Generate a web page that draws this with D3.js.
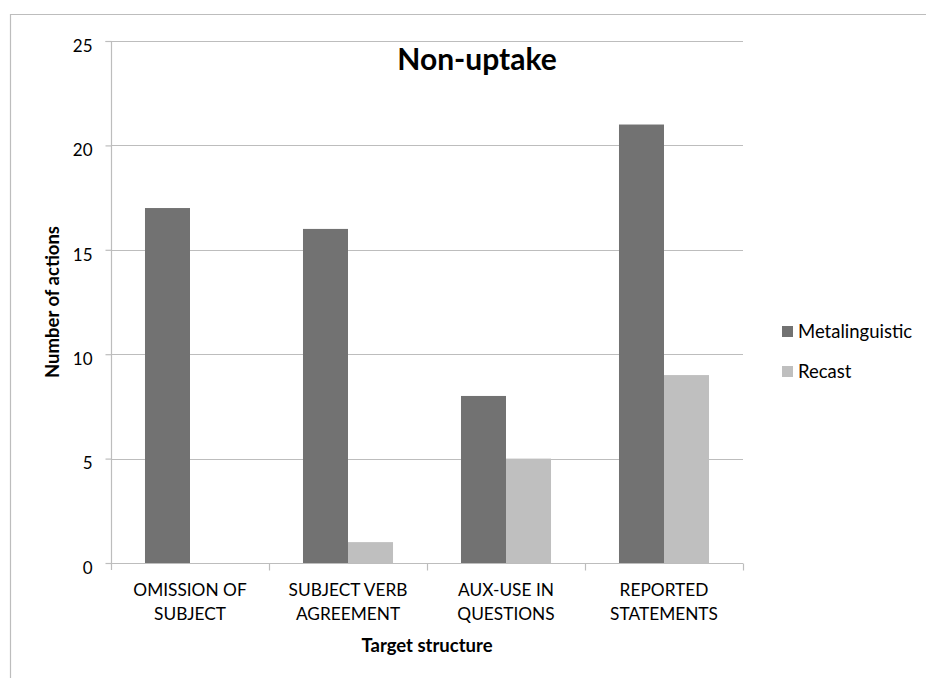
<!DOCTYPE html>
<html>
<head>
<meta charset="utf-8">
<script src="https://cdn.jsdelivr.net/npm/d3@7"></script>
<style>
  html, body { margin: 0; padding: 0; background: #fff; }
  svg { display: block; }
  text { font-family: Lato, "Open Sans", sans-serif; fill: #000; }
</style>
</head>
<body>
<svg id="chart" width="926" height="678"></svg>
<script>
const categories = [["OMISSION OF", "SUBJECT"], ["SUBJECT VERB", "AGREEMENT"], ["AUX-USE IN", "QUESTIONS"], ["REPORTED", "STATEMENTS"]];
const seriesNames = ["Metalinguistic", "Recast"];
const metalinguistic = [17, 16, 8, 21];
const recast = [0, 1, 5, 9];
const yTicks = [0, 5, 10, 15, 20, 25];
const colors = ["#727272", "#bfbfbf"];

const svg = d3.select("#chart");
const W = 926, H = 678;
const plot = { left: 111, right: 743, top: 41, bottom: 563 };

// outer frame
svg.append("path")
  .attr("d", `M10.5,${H} L10.5,14.5 L${W},14.5`)
  .attr("fill", "none").attr("stroke", "#bdbdbd").attr("stroke-width", 1.2);

const catKeys = categories.map((c, i) => i);
const x0 = d3.scaleBand().domain(catKeys).range([plot.left, plot.right]).paddingInner(0).paddingOuter(0);
const x1 = d3.scaleBand().domain(seriesNames).range([0, x0.bandwidth()]).paddingInner(0).paddingOuter(0.755);
const y = d3.scaleLinear().domain([0, 25]).range([plot.bottom, plot.top]);

// gridlines
svg.append("g").selectAll("line").data(yTicks.filter(t => t > 0)).join("line")
  .attr("x1", plot.left).attr("x2", plot.right)
  .attr("y1", d => Math.round(y(d)) + 0.5).attr("y2", d => Math.round(y(d)) + 0.5)
  .attr("stroke", "#bdbdbd").attr("stroke-width", 1.2);

// bars
const data = catKeys.map(i => ({ i, values: [metalinguistic[i], recast[i]] }));
const groups = svg.append("g").selectAll("g").data(data).join("g")
  .attr("transform", d => `translate(${x0(d.i)},0)`);
groups.selectAll("rect").data(d => d.values.map((v, k) => ({ k, v }))).join("rect")
  .attr("x", d => x1(seriesNames[d.k]))
  .attr("width", x1.bandwidth())
  .attr("y", d => y(d.v))
  .attr("height", d => y(0) - y(d.v))
  .attr("fill", d => colors[d.k]);

// y axis
const yAxis = d3.axisLeft(y).tickValues(yTicks).tickSize(6).tickPadding(13).tickFormat(d3.format("d"));
const gy = svg.append("g").attr("transform", `translate(${plot.left + 0.5},0)`).call(yAxis);
gy.select(".domain").attr("stroke", "#bdbdbd").attr("stroke-width", 1.2)
  .attr("d", `M-6,${plot.top + 0.5}H0V${plot.bottom + 7}`);
gy.selectAll(".tick line").attr("stroke", "#bdbdbd").attr("stroke-width", 1.2);
gy.selectAll(".tick text").attr("font-size", 17).attr("font-family", "Lato").attr("dy", "0.6em").attr("fill", "#000");

// x axis
const xAxis = d3.axisBottom(x0).tickSize(0).tickFormat("");
const gx = svg.append("g").attr("transform", `translate(0,${plot.bottom + 0.5})`).call(xAxis);
gx.select(".domain").attr("stroke", "#bdbdbd").attr("stroke-width", 1.2)
  .attr("d", `M${plot.left},0H${plot.right}`);
gx.selectAll(".tick").remove();
// boundary ticks
const bounds = catKeys.map(i => x0(i) + x0.bandwidth());
gx.append("g").selectAll("line").data(bounds).join("line")
  .attr("x1", d => Math.round(d) + 0.5).attr("x2", d => Math.round(d) + 0.5)
  .attr("y1", 0).attr("y2", 7).attr("stroke", "#bdbdbd").attr("stroke-width", 1.2);
// category labels
const lbl = svg.append("g").selectAll("text").data(catKeys).join("text")
  .attr("text-anchor", "middle").attr("font-size", 17.3)
  .attr("x", d => x0(d) + x0.bandwidth() / 2)
  .attr("y", 596);
lbl.selectAll("tspan").data(d => categories[d]).join("tspan")
  .attr("x", function () { return d3.select(this.parentNode).attr("x"); })
  .attr("dy", (d, k) => k === 0 ? 0 : 24)
  .text(d => d);

// axis titles
svg.append("text").attr("x", (plot.left + plot.right) / 2).attr("y", 652)
  .attr("text-anchor", "middle").attr("font-size", 18.5).attr("font-weight", "bold")
  .text("Target structure");
svg.append("text").attr("transform", `translate(59,${(plot.top + plot.bottom) / 2}) rotate(-90)`)
  .attr("text-anchor", "middle").attr("font-size", 18.5).attr("font-weight", "bold")
  .text("Number of actions");

// title
svg.append("text").attr("x", 477).attr("y", 70)
  .attr("text-anchor", "middle").attr("font-size", 30).attr("font-weight", "bold")
  .text("Non-uptake");

// legend
const leg = svg.append("g").selectAll("g").data(seriesNames).join("g")
  .attr("transform", (d, k) => `translate(782,${326 + k * 40})`);
leg.append("rect").attr("width", 11).attr("height", 11).attr("fill", (d, k) => colors[k]);
leg.append("text").attr("x", 16).attr("y", 12).attr("font-size", 18.5).text(d => d);
</script>
</body>
</html>
